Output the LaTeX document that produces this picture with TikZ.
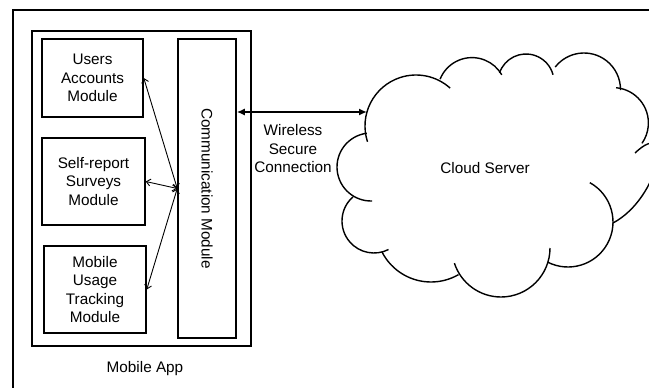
\documentclass[tikz,border=0pt]{standalone}
\usepackage{fontspec}
\setmainfont{Liberation Sans}
\usetikzlibrary{positioning, arrows.meta}

\begin{document}
\begin{tikzpicture}[
    x=1pt, y=-1pt,
    every node/.style={font=\fontsize{15.3}{18.5}\selectfont},
    frame/.style={draw, line width=1.3pt},
    module/.style={rectangle, draw, line width=1.5pt, align=center, inner sep=0pt},
    puff/.style={line width=1.4pt},
    link/.style={{Straight Barb[length=4pt,width=7pt]}-{Straight Barb[length=4pt,width=7pt]}, line width=0.9pt},
    wireless/.style={{Latex[length=8pt,width=7pt]}-{Latex[length=8pt,width=7pt]}, line width=2.2pt}
  ]
    \useasboundingbox (0,0) rectangle (649,388);
    \clip (0,0) rectangle (649,388);

    % Outer frame (cut by the page)
    \draw[frame] (13,10) rectangle (700,420);

    % Mobile app
    \node[module, minimum width=219pt, minimum height=315pt] (app) at (141.5,188.5) {};
    \node (app-lbl) at (145,369) {Mobile App};

    % Modules (left side)
    \node[module, minimum width=101pt, minimum height=78pt] (users) at (92.5,78) {Users\\Accounts\\Module};
    \node[module, minimum width=103pt, minimum height=87pt] (surveys) at (93.5,181.5) {Self-report\\Surveys\\Module};
    \node[module, minimum width=102pt, minimum height=87pt] (tracking) at (95,289.5) {Mobile\\Usage\\Tracking\\Module};

    % Communication module
    \node[module, minimum width=58pt, minimum height=299pt] (comm) at (207,188.5) {};
    \node[rotate=-90] (comm-lbl) at (comm.center) {Communication Module};

    % Arrows from modules to communication module
    \draw[link] (comm.west) -- (users.east);
    \draw[link] (comm.west) -- (surveys.east);
    \draw[link] (comm.west) -- (tracking.east);

    % Cloud server
    \draw[puff] ([shift={(162:51)}]416,126) arc[start angle=162, end angle=312, radius=51];
    \draw[puff] ([shift={(202:34.4)}]472,92) arc[start angle=202, end angle=330, radius=34.4];
    \draw[puff] ([shift={(199:28)}]526,82) arc[start angle=199, end angle=345, radius=28];
    \draw[puff] ([shift={(218:36.5)}]584,89.5) arc[start angle=218, end angle=361, radius=36.5];
    \draw[puff] ([shift={(275:35.4)}]613,123) arc[start angle=275, end angle=395, radius=35.4];
    \draw[puff] (635,153) .. controls (675,115) and (660,198) .. (613,223);
    \draw[puff] ([shift={(-61:45)}]568,222) arc[start angle=-61, end angle=117, radius=45];
    \draw[puff] ([shift={(0:49)}]501,248) arc[start angle=0, end angle=162, radius=49];
    \draw[puff] ([shift={(60:55)}]431,227) arc[start angle=60, end angle=153, radius=55];
    \draw[puff] ([shift={(229:32)}]374,221) arc[start angle=229, end angle=63, radius=32];
    \draw[puff] ([shift={(263:34)}]371,167) arc[start angle=263, end angle=88, radius=34];
    \node (cloud) at (485,168) {Cloud Server};
    \coordinate (cloud-w) at (367,112);

    % Wireless connection
    \draw[wireless] (comm.east |- cloud-w) -- (cloud-w);
    \node[align=center] (wireless-lbl) at (293,149) {Wireless\\Secure\\Connection};

  \end{tikzpicture}
\end{document}
